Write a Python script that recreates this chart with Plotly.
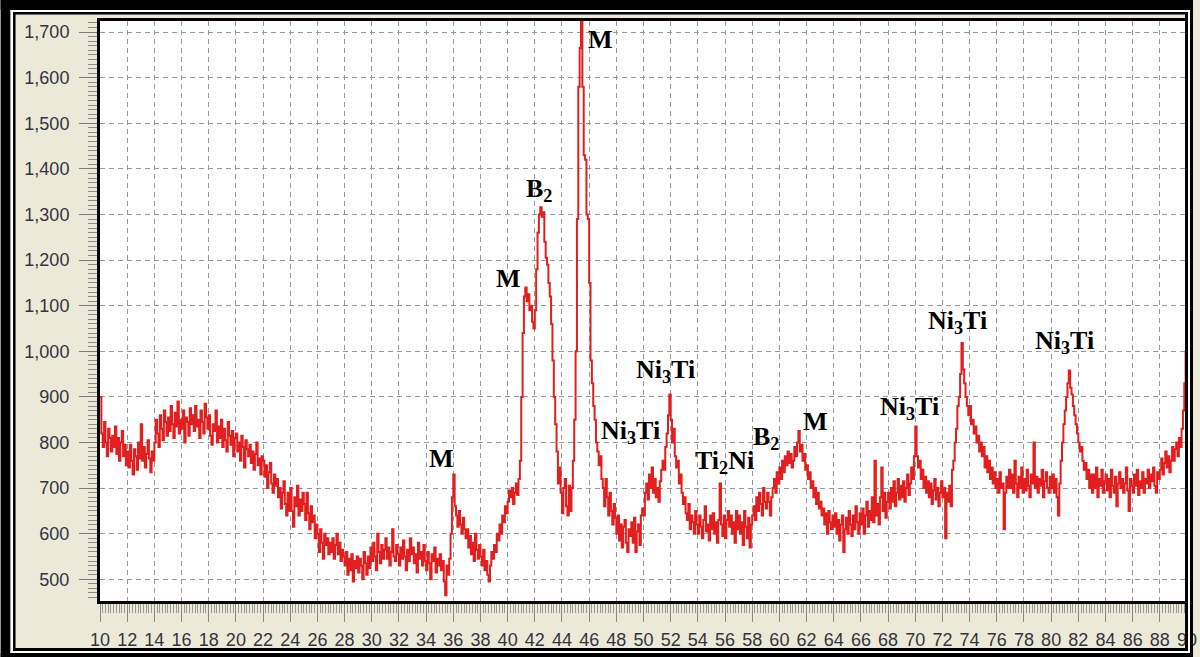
import numpy as np
import plotly.graph_objects as go

# ---------------- data (2-theta step 0.1 deg, counts) ----------------
two_theta_start = 10.0
two_theta_step = 0.1

counts_10_20 = [
    900, 820, 790, 845, 800, 770, 830, 810, 780, 815,
    790, 835, 775, 810, 760, 800, 825, 770, 795, 750,
    780, 745, 795, 760, 730, 785, 770, 740, 800, 765,
    840, 760, 790, 745, 775, 805, 765, 735, 780, 760,
    800, 850, 820, 790, 860, 830, 805, 870, 845, 815,
    855, 825, 880, 840, 810, 865, 835, 890, 820, 850,
    830, 870, 800, 855, 845, 815, 875, 840, 860, 825,
    880, 835, 850, 810, 870, 845, 820, 885, 855, 830,
    860, 815, 795, 840, 825, 870, 800, 835, 810, 850,
    790, 830, 805, 780, 845, 815, 795, 825, 770, 810,
]
counts_20_30 = [
    820, 780, 800, 760, 815, 790, 745, 805, 785, 770,
    795, 755, 780, 740, 775, 800, 750, 765, 730, 770,
    760, 725, 750, 700, 735, 755, 710, 690, 730, 705,
    720, 680, 700, 655, 690, 715, 665, 640, 690, 650,
    700, 650, 615, 680, 660, 705, 640, 675, 650, 690,
    665, 630, 690, 645, 610, 660, 625, 640, 590, 620,
    600, 560, 610, 580, 545, 600, 575, 590, 555, 580,
    560, 590, 545, 575, 600, 555, 580, 540, 565, 550,
    530, 560, 510, 545, 520, 555, 495, 540, 525, 550,
    515, 545, 530, 500, 560, 535, 510, 550, 525, 570,
]
counts_30_40 = [
    540, 580, 550, 520, 600, 560, 535, 575, 545, 565,
    590, 545, 570, 530, 560, 610, 550, 540, 575, 555,
    530, 570, 545, 585, 550, 520, 565, 540, 590, 555,
    570, 535, 555, 515, 580, 545, 560, 530, 575, 540,
    520, 560, 535, 500, 555, 540, 570, 515, 545, 530,
    555, 520, 540, 495, 465, 530, 510, 545, 600, 680,
    730, 660, 640, 615, 650, 620, 600, 635, 610, 590,
    610, 570, 595, 555, 580, 540, 600, 565, 545, 575,
    550, 530, 565, 520, 540, 510, 495, 530, 560, 545,
    575, 560, 600, 585, 620, 600, 640, 625, 660, 645,
]
counts_40_50 = [
    670, 695, 680, 700, 665, 690, 710, 685, 720, 760,
    900, 1040, 1120, 1140, 1110, 1125, 1090, 1100, 1065, 1050,
    1090, 1180, 1260, 1300, 1316, 1295, 1305, 1240, 1205, 1190,
    1150, 1120, 1060, 980, 900, 840, 780, 710, 745, 690,
    645, 700, 720, 660, 640, 705, 650, 700, 760, 850,
    1000, 1290, 1580, 1665, 1780, 1580, 1430, 1420, 1300, 1290,
    1150, 980, 930, 880, 850, 800, 780, 750, 770, 720,
    700, 660, 720, 680, 640, 690, 650, 620, 665, 635,
    600, 640, 585, 620, 570, 615, 630, 580, 560, 610,
    595, 625, 580, 635, 560, 605, 620, 575, 640, 655,
]
counts_50_60 = [
    640, 690, 710, 675, 730, 700, 745, 690, 720, 680,
    700, 670, 715, 740, 760, 740, 790, 820, 860, 905,
    850, 800, 830, 770, 745, 760, 710, 730, 690, 665,
    680, 645, 630, 665, 610, 640, 625, 600, 650, 620,
    600, 640, 615, 590, 630, 660, 605, 620, 585, 640,
    610, 645, 600, 625, 580, 630, 710, 620, 595, 640,
    590, 630, 650, 615, 640, 600, 625, 580, 650, 610,
    640, 600, 625, 575, 650, 615, 590, 635, 570, 620,
    640, 660, 630, 680, 650, 690, 665, 640, 700, 670,
    655, 690, 670, 640, 680, 700, 720, 690, 735, 710,
]
counts_60_70 = [
    745, 720, 760, 735, 770, 750, 780, 755, 775, 745,
    760, 790, 770, 800, 825, 780, 795, 760, 775, 740,
    750, 720, 735, 700, 715, 680, 700, 665, 690, 655,
    670, 640, 655, 620, 645, 600, 650, 625, 610, 640,
    615, 645, 600, 630, 585, 620, 640, 560, 610, 635,
    600, 650, 620, 595, 640, 610, 660, 625, 600, 645,
    620, 655, 600, 640, 670, 615, 650, 630, 680, 625,
    760, 640, 665, 620, 680, 745, 650, 690, 635, 670,
    690, 655, 700, 670, 715, 660, 690, 720, 675, 705,
    680, 715, 670, 700, 730, 685, 710, 745, 720, 770,
]
counts_70_80 = [
    835, 770, 745, 760, 720, 740, 700, 725, 690, 715,
    680, 710, 665, 695, 720, 675, 700, 660, 690, 715,
    680, 700, 590, 690, 670, 705, 660, 740, 760, 800,
    830, 880, 900, 950, 1018, 960, 930, 900, 880, 860,
    880, 840, 850, 820, 835, 800, 815, 780, 800, 770,
    790, 745, 770, 735, 760, 720, 745, 710, 735, 700,
    720, 690, 735, 700, 710, 610, 690, 725, 700, 740,
    700, 730, 690, 760, 710, 680, 725, 700, 745, 690,
    720, 695, 740, 705, 680, 730, 710, 800, 700, 725,
    690, 720, 705, 740, 680, 715, 735, 700, 690, 725,
]
counts_80_90 = [
    700, 730, 690, 720, 680, 640, 710, 760, 800, 840,
    870, 900, 930, 958, 920, 905, 880, 860, 840, 820,
    800, 780, 790, 760, 740, 755, 720, 740, 700, 730,
    690, 730, 700, 745, 680, 720, 705, 740, 690, 715,
    730, 695, 720, 680, 740, 705, 690, 725, 660, 710,
    735, 700, 720, 690, 710, 745, 695, 650, 720, 705,
    690, 730, 705, 740, 685, 715, 700, 735, 690, 720,
    710, 740, 700, 730, 715, 745, 705, 690, 735, 720,
    740, 765, 730, 755, 780, 745, 770, 735, 760, 790,
    760, 785, 800, 770, 810, 790, 830, 870, 930, 1000,
    1020,
]

# phase labels: text, 2-theta, counts
label_text = ["M", "M", "B<sub>2</sub>", "M", "Ni<sub>3</sub>Ti", "Ni<sub>3</sub>Ti",
              "Ti<sub>2</sub>Ni", "B<sub>2</sub>", "M", "Ni<sub>3</sub>Ti",
              "Ni<sub>3</sub>Ti", "Ni<sub>3</sub>Ti"]
label_theta = [35.12, 40.05, 42.29, 46.86, 49.01, 51.64, 55.95, 58.99, 62.65, 69.6, 73.1, 81.0]
label_counts = [764, 1159, 1354, 1683, 823, 957, 757, 810, 847, 876, 1064, 1020]

x_ticks = list(range(10, 92, 2))
y_ticks = list(range(500, 1800, 100))

# ---------------- figure ----------------
counts = (counts_10_20 + counts_20_30 + counts_30_40 + counts_40_50 +
          counts_50_60 + counts_60_70 + counts_70_80 + counts_80_90)
two_theta = np.round(two_theta_start + two_theta_step * np.arange(len(counts)), 2)

W, H = 1200, 657
L, R, T, B = 100, 3, 21, 56
PW, PH = W - L - R, H - T - B
X0 = 10.0
X1 = X0 + PW / 13.675
Y0 = 500 - (601 - 579.3) / 0.456
Y1 = 500 + (579.3 - 21) / 0.456

fig = go.Figure()
fig.add_trace(go.Scatter(
    x=two_theta, y=counts, mode="lines", line=dict(color="#E21F1F", width=2, shape="hv"),
    showlegend=False, hoverinfo="skip"))

tickfont = dict(family="Liberation Sans, Arial", size=18, color="#34343f")
fig.update_xaxes(
    range=[X0, X1], tickvals=x_ticks, ticktext=[str(v) for v in x_ticks],
    ticks="outside", ticklen=18, tickwidth=1, tickcolor="#8a8a8a",
    minor=dict(dtick=0.2, tick0=10, ticks="outside", ticklen=9, tickcolor="#9a9a9a", showgrid=False),
    showgrid=True, gridcolor="#999999", gridwidth=1, griddash="5px,4px",
    showline=True, linecolor="black", linewidth=3, mirror=True,
    zeroline=False, tickfont=tickfont, ticklabelstandoff=2, ticklabeloverflow="allow")
fig.update_yaxes(
    range=[Y0, Y1], tickvals=y_ticks, tickformat=",d",
    ticks="outside", ticklen=18, tickwidth=1, tickcolor="#7a7a7a",
    minor=dict(dtick=10, tick0=500, ticks="outside", ticklen=9, tickcolor="#8a8a8a", showgrid=False),
    showgrid=True, gridcolor="#999999", gridwidth=1, griddash="5px,4px",
    showline=True, linecolor="black", linewidth=3, mirror=True,
    zeroline=False, tickfont=tickfont, ticklabelstandoff=6)

for t, xv, yv in zip(label_text, label_theta, label_counts):
    fig.add_annotation(x=xv, y=yv, text=t, showarrow=False, xanchor="center", yanchor="middle",
                       font=dict(family="Liberation Serif, Times New Roman", size=26,
                                 color="black", weight="bold"))

def px2x(px):
    return (px - L) / PW

def py2y(py):
    return (H - B - py) / PH

def band(x0, y0, x1, y1, color):
    fig.add_shape(type="rect", xref="paper", yref="paper",
                  x0=px2x(x0), x1=px2x(x1), y0=py2y(y1), y1=py2y(y0),
                  fillcolor=color, line=dict(width=0), layer="above")

# outer picture frame
band(0, 0, 10, H, "black"); band(0, 0, W, 10, "black")
band(1197, 0, W, H, "black"); band(0, 653, W, H, "black")
band(10, 10, 12.5, 653, "white"); band(10, 10, 1197, 12, "white")
band(1195, 10, 1197, 653, "white"); band(10, 651, 1197, 653, "white")
band(12.5, 12, 15, 651, "black"); band(12.5, 12, 1195, 14.5, "black")
band(1192, 12, 1195, 651, "black"); band(12.5, 648, 1195, 651, "black")

fig.update_layout(
    width=W, height=H, margin=dict(l=L, r=R, t=T, b=B, pad=0),
    paper_bgcolor="#ECE9D8", plot_bgcolor="white", showlegend=False)

fig.write_html("out.html", config={"displayModeBar": False},
               post_script="document.body.style.margin='0';document.body.style.overflow='hidden';")
